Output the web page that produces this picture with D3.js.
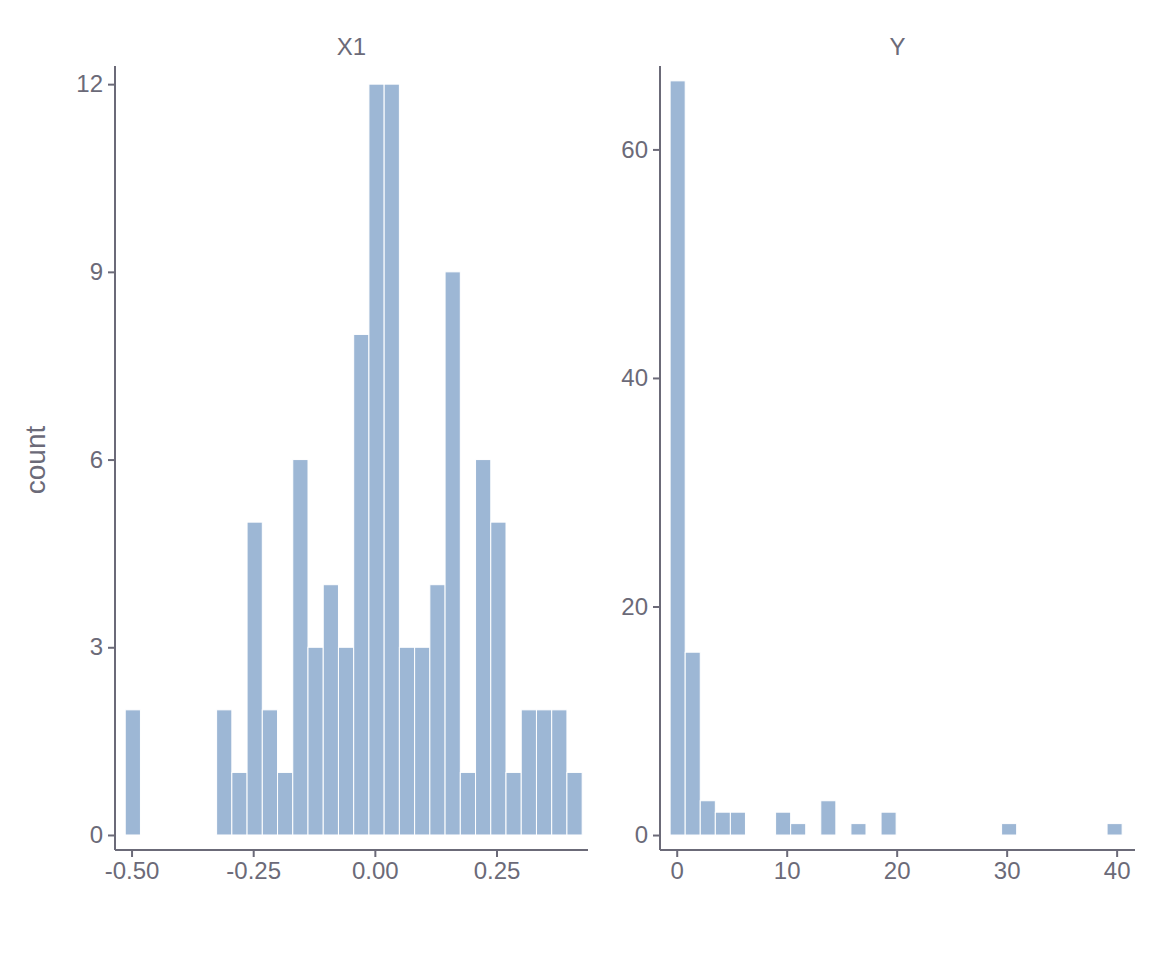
<!DOCTYPE html><html><head><meta charset="utf-8"><script src="https://cdn.jsdelivr.net/npm/d3@7"></script>
<style>body{margin:0;background:#fff}text{font-family:"Liberation Sans",Arial,sans-serif;fill:#6b6a78}</style></head><body>
<script>
const x1Start=-0.513, x1Width=0.0313;
const x1Counts=[2,0,0,0,0,0,2,1,5,2,1,6,3,4,3,8,12,12,3,3,4,9,1,6,5,1,2,2,2,1];
const yStart=-0.6, yWidth=1.37;
const yCounts=[66,16,3,2,2,0,0,2,1,0,3,0,1,0,2,0,0,0,0,0,0,0,1,0,0,0,0,0,0,1];
const x1Ticks=[-0.5,-0.25,0,0.25], yTicks=[0,10,20,30,40];
const x1YTicks=[0,3,6,9,12], yYTicks=[0,20,40,60];
const W=1152,H=960,col="#6b6a78";
const svg=d3.select("body").append("svg").attr("width",W).attr("height",H);
function panel(o){
  const x=d3.scaleLinear().domain(o.xd).range([o.l,o.r]);
  const y=d3.scaleLinear().domain(o.yd).range([850,66]);
  const g=svg.append("g");
  const bins=o.counts.map((c,i)=>({c,x0:o.start+i*o.w,x1:o.start+(i+1)*o.w})).filter(d=>d.c>0);
  g.selectAll("rect").data(bins).join("rect")
   .attr("x",d=>x(d.x0)).attr("width",d=>x(d.x1)-x(d.x0))
   .attr("y",d=>y(d.c)).attr("height",d=>y(0)-y(d.c)).attr("fill","#9db7d5").attr("stroke","#fff").attr("stroke-width",1);
  const ax=g.append("g").attr("transform","translate(0,850)").call(d3.axisBottom(x).tickValues(o.xt).tickFormat(o.fmt).tickSize(7).tickPadding(5));
  const ay=g.append("g").attr("transform",`translate(${o.l},0)`).call(d3.axisLeft(y).tickValues(o.yt).tickSize(7).tickPadding(5));
  [ax,ay].forEach(a=>{a.selectAll("path,line").attr("stroke",col).attr("stroke-width",2);a.selectAll("text").attr("font-size",24).style("fill",col);a.select(".domain").attr("d",a===ax?`M${o.l},0H${o.r}`:`M0,66V850`)});
  svg.append("text").attr("x",(o.l+o.r)/2).attr("y",55).attr("text-anchor","middle").attr("font-size",24).text(o.title);
}
const f2=d=>d3.format(".2f")(d).replace("−","-");
panel({xd:[-0.534,0.438],l:115,r:588,yd:[-0.24,12.29],start:x1Start,w:x1Width,counts:x1Counts,xt:x1Ticks,yt:x1YTicks,fmt:f2,title:"X1"});
panel({xd:[-1.52,41.67],l:660,r:1135,yd:[-1.31,67.3],start:yStart,w:yWidth,counts:yCounts,xt:yTicks,yt:yYTicks,fmt:d3.format("d"),title:"Y"});
svg.append("text").attr("transform","translate(45,460) rotate(-90)").attr("text-anchor","middle").attr("font-size",28).text("count");
</script></body></html>
